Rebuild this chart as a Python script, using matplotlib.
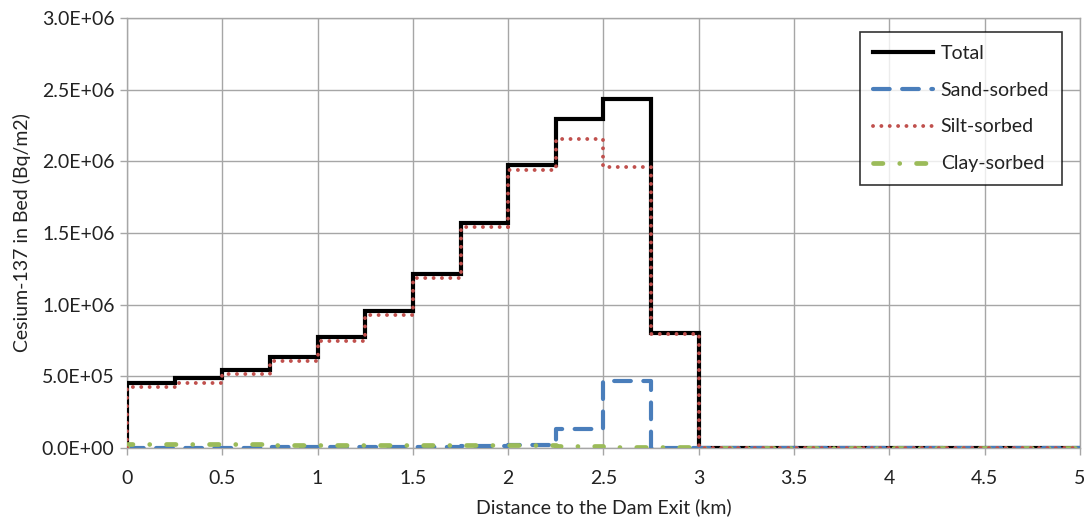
import matplotlib
matplotlib.use("Agg")
import matplotlib.pyplot as plt
import numpy as np

plt.rcParams['font.family'] = ['Lato', 'DejaVu Sans']

# Segment edges (km) and values per 0.25 km cell (Bq/m2)
edges = [0, 0.25, 0.5, 0.75, 1.0, 1.25, 1.5, 1.75, 2.0, 2.25, 2.5, 2.75,
         3.0, 3.25, 3.5, 3.75, 4.0, 4.25, 4.5, 4.75, 5.0]
total = [4.56e5, 4.90e5, 5.45e5, 6.38e5, 7.71e5, 9.53e5, 1.215e6, 1.571e6,
         1.972e6, 2.294e6, 2.434e6, 8.02e5, 0, 0, 0, 0, 0, 0, 0, 0]
sand = [2e3, 3e3, 3e3, 4e3, 5e3, 6e3, 8e3, 1.2e4, 2.0e4, 1.35e5, 4.69e5, 3e3,
        0, 0, 0, 0, 0, 0, 0, 0]
silt = [4.28e5, 4.56e5, 5.17e5, 6.08e5, 7.43e5, 9.30e5, 1.184e6, 1.541e6,
        1.937e6, 2.154e6, 1.958e6, 7.95e5, 0, 0, 0, 0, 0, 0, 0, 0]
clay = [2.6e4, 2.6e4, 2.5e4, 2.4e4, 2.3e4, 2.2e4, 2.1e4, 2.0e4, 1.8e4, 1.5e4,
        1.0e4, 5e3, 0, 0, 0, 0, 0, 0, 0, 0]

series_names = ['Total', 'Sand-sorbed', 'Silt-sorbed', 'Clay-sorbed']
xticks = [0, 0.5, 1, 1.5, 2, 2.5, 3, 3.5, 4, 4.5, 5]
xtick_labels = ['0', '0.5', '1', '1.5', '2', '2.5', '3', '3.5', '4', '4.5', '5']
yticks = [0, 5e5, 1e6, 1.5e6, 2e6, 2.5e6, 3e6]


def step_xy(e, v):
    xs = [e[0]]
    ys = [0.0]
    for i, val in enumerate(v):
        xs += [e[i], e[i + 1]]
        ys += [val, val]
    return xs, ys


FS = 14
fig = plt.figure(figsize=(10.89, 5.17), dpi=100)
ax = fig.add_axes([0.1166, 0.1335, 0.8751, 0.8317])

grid_c = '#a6a6a6'
ax.set_xlim(0, 5)
ax.set_ylim(0, 3e6)
ax.set_xticks(xticks)
ax.set_xticklabels(xtick_labels)
ax.set_yticks(yticks)
ax.set_yticklabels(['{:.1E}'.format(v) for v in yticks])
ax.grid(True, color=grid_c, linewidth=1.0)
ax.set_axisbelow(True)
for s in ax.spines.values():
    s.set_color(grid_c)
    s.set_linewidth(1.0)
ax.tick_params(axis='both', colors=grid_c, length=5, width=1.0,
               labelcolor='#222222', labelsize=FS)
ax.tick_params(axis='x', pad=11)
ax.tick_params(axis='y', pad=4)

x, y = step_xy(edges, total)
ax.plot(x, y, color='black', lw=3.0, solid_joinstyle='miter',
        label=series_names[0], zorder=3)
x, y = step_xy(edges, sand)
ax.plot(x, y, color='#4a7ebb', lw=3.0, dashes=(4, 3), dash_capstyle='round',
        label=series_names[1], zorder=4)
x, y = step_xy(edges, silt)
ax.plot(x, y, color='#c0504d', lw=2.8, dashes=(0.01, 2.14), dash_capstyle='round',
        label=series_names[2], zorder=5)
x, y = step_xy(edges, clay)
ax.plot(x, y, color='#9bbb59', lw=3.4, dashes=(2, 3.55, 0.01, 3.55),
        dash_capstyle='round', label=series_names[3], zorder=4)

ax.set_xlabel('Distance to the Dam Exit (km)', fontsize=FS, color='#222222',
              labelpad=8)
ax.set_ylabel('Cesium-137 in Bed (Bq/m2)', fontsize=FS, color='#222222',
              labelpad=8)

leg = ax.legend(loc='upper right', bbox_to_anchor=(0.981, 0.967), fontsize=FS,
                frameon=True, fancybox=False, edgecolor='black',
                handlelength=3.1, labelspacing=1.02, borderpad=0.65,
                borderaxespad=0, handletextpad=0.4)
leg.get_frame().set_linewidth(1.2)
leg._legend_box.sep = 0
leg._legend_handle_box.pad = 0
for t in leg.get_texts():
    t.set_color('#222222')

fig.savefig('out.png', dpi=100)
